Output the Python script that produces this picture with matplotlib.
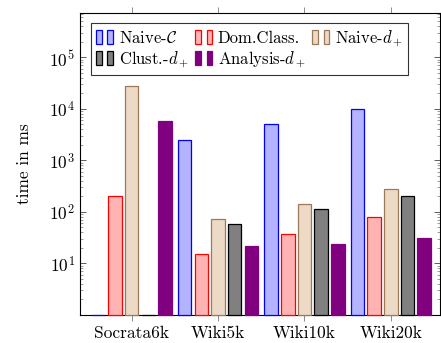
import matplotlib
matplotlib.use("Agg")
import matplotlib.pyplot as plt
from matplotlib.legend_handler import HandlerBase
from matplotlib.patches import Rectangle
from matplotlib.ticker import LogLocator, NullFormatter
import numpy as np

plt.rcParams["font.family"] = ["cmr10"]
plt.rcParams["mathtext.fontset"] = "cm"
plt.rcParams["axes.formatter.use_mathtext"] = True

datasets = ["Socrata6k", "Wiki5k", "Wiki10k", "Wiki20k"]
series = ["Naive-$\\mathcal{C}$", "Dom.Class.", "Naive-$d_+$", "Clust.-$d_+$", "Analysis-$d_+$"]

naive_c = [1, 2500, 5100, 10000]
dom_class = [200, 15, 37, 80]
naive_d = [28000, 73, 143, 280]
clust_d = [1, 58, 114, 200]
analysis_d = [5800, 22, 24, 31]
values = [naive_c, dom_class, naive_d, clust_d, analysis_d]

fills = ["#b3b3ff", "#ffb3b3", "#ecdac7", "#808080", "#800080"]
edges = ["#0000ff", "#ff0000", "#9c7a58", "#000000", "#800080"]


class TwoBars(HandlerBase):
    def create_artists(self, legend, orig, xd, yd, width, height, fontsize, trans):
        w = width * 0.3
        out = []
        for x0 in (0, width * 0.62):
            r = Rectangle((x0 - xd, -yd - height * 0.1), w, height * 1.2,
                          facecolor=orig.get_facecolor(), edgecolor=orig.get_edgecolor(),
                          lw=0.9, transform=trans)
            out.append(r)
        return out


fig = plt.figure(figsize=(4.41, 3.43), dpi=100)
ax = fig.add_axes([0.181, 0.082, 0.817, 0.880])

x = np.arange(len(datasets))
step = 0.193
width = 0.156
handles = []
for i, vals in enumerate(values):
    b = ax.bar(x + (i - 2) * step, np.array(vals, float) - 1, width, bottom=1,
               facecolor=fills[i], edgecolor=edges[i], linewidth=0.9,
               label=series[i], zorder=3, clip_on=False)
    handles.append(b.patches[0])

ax.set_yscale("log")
ax.set_ylim(1, 7.3e5)
ax.set_xlim(-0.60, 3.57)
ax.set_xticks(x)
ax.set_xticklabels(datasets, fontsize=12.5)
ax.set_yticks([10, 100, 1000, 1e4, 1e5])
ax.yaxis.set_minor_locator(LogLocator(base=10, subs=np.arange(2, 10), numticks=20))
ax.yaxis.set_minor_formatter(NullFormatter())
ax.tick_params(axis="y", which="major", direction="in", length=4, right=True,
               labelsize=12.5, width=0.6, color="#444444")
ax.tick_params(axis="y", which="minor", direction="in", length=2.5, right=True,
               width=0.5, color="#777777")
ax.tick_params(axis="x", direction="out", length=4, top=True, width=0.6,
               color="#777777", pad=4)
ax.set_ylabel("time in ms", fontsize=12.5, labelpad=12)
for s in ax.spines.values():
    s.set_linewidth(0.8)

order = [0, 3, 1, 4, 2]
leg = ax.legend([handles[k] for k in order], [series[k] for k in order],
                ncol=3, loc="upper left", bbox_to_anchor=(0.008, 0.995),
                handler_map={Rectangle: TwoBars()}, fontsize=12,
                frameon=True, fancybox=False, edgecolor="black",
                handlelength=1.1, handletextpad=0.25, columnspacing=0.4,
                labelspacing=0.2, borderpad=0.3)
leg.get_frame().set_linewidth(0.8)
leg.set_zorder(5)

fig.savefig("out.png", dpi=100)
